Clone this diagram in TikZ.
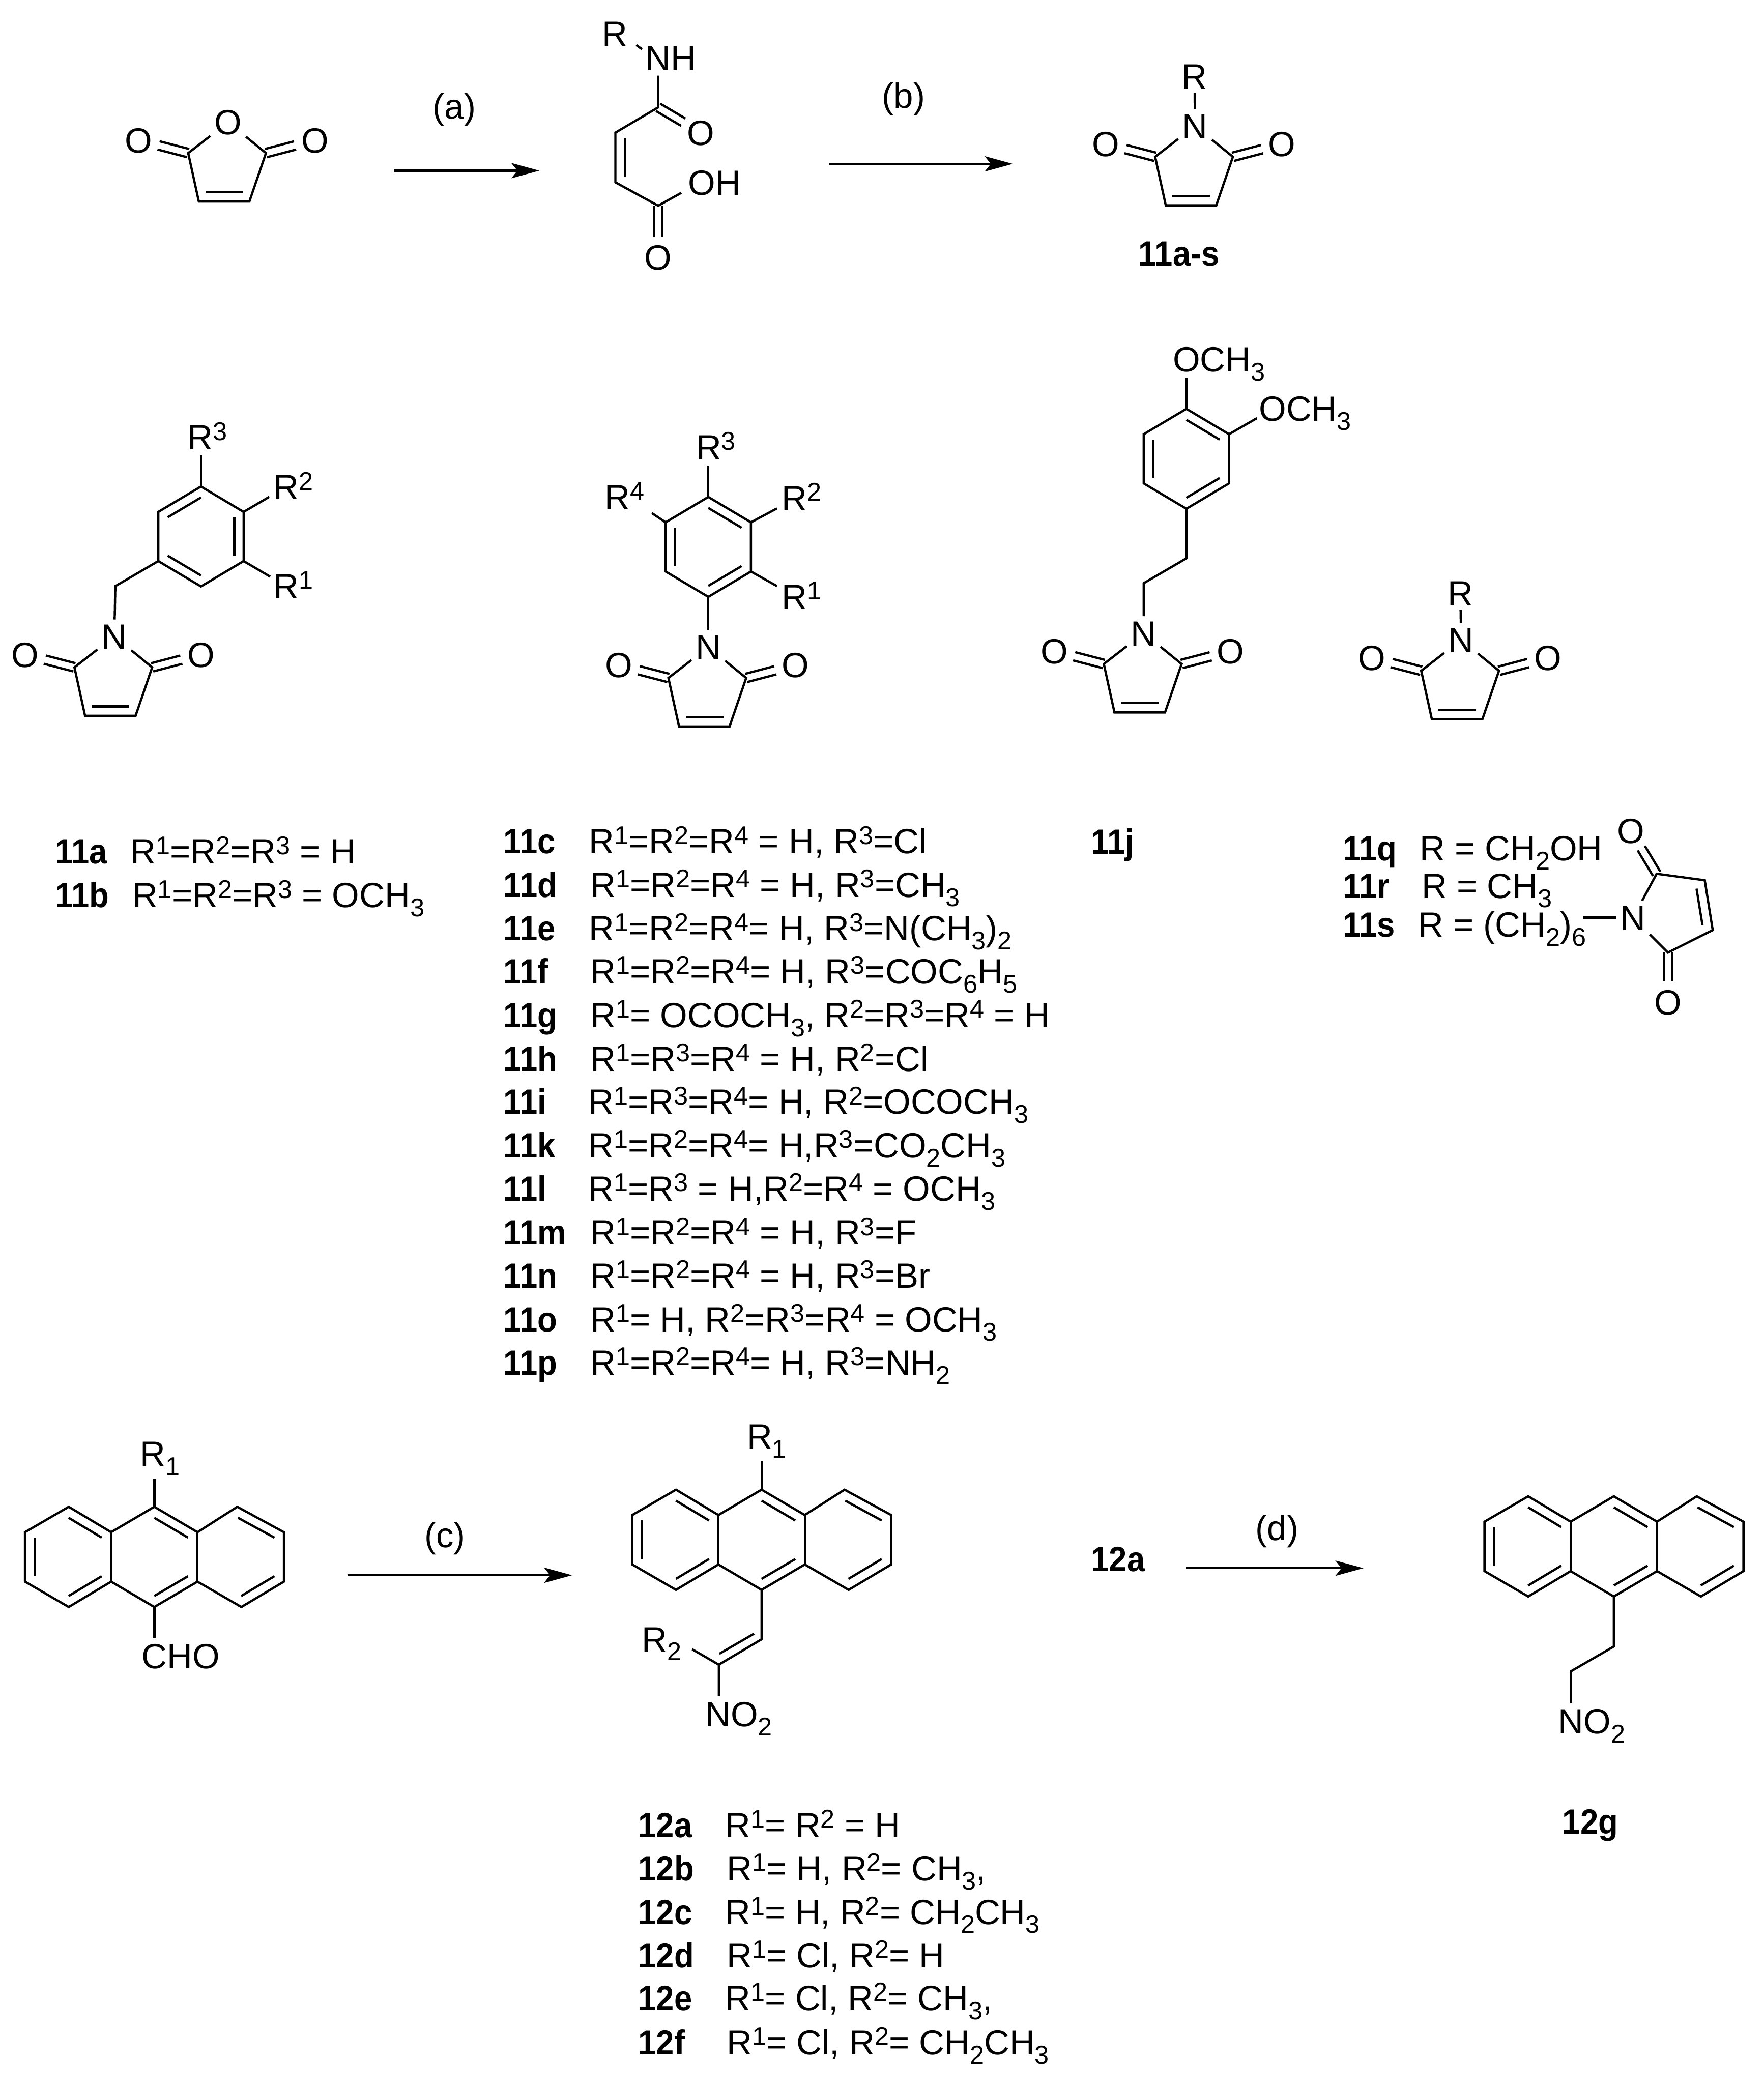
\documentclass[tikz,border=0pt]{standalone}
\usepackage{fontspec}
\setmainfont{Liberation Sans}
\newfontfamily\bldf[FakeStretch=0.92]{Liberation Sans Bold}
\usetikzlibrary{calc,arrows.meta}
\newcommand{\fz}{\fontsize{26.4}{30}\selectfont}
\newcommand{\spU}[1]{\raisebox{.27em}{\fontsize{19.3}{19}\selectfont #1}}
\newcommand{\spD}[1]{\raisebox{-.26em}{\fontsize{19.3}{19}\selectfont #1}}
\newcommand{\Rx}[1]{R\spU{#1}}
\tikzset{
  bond/.style={line width=1.7pt,line join=miter,black},
  rxn/.style={line width=1.7pt,-{Stealth[length=21pt,width=11.4pt,inset=4.5pt]}},
  atom/.style={font=\fz,inner sep=3pt,text height=19pt,text depth=0pt},
  lab/.style={font=\fz,anchor=base west,inner sep=0pt},
  bld/.style={font=\bldf\fz,anchor=base west,inner sep=0pt},
  cond/.style={font=\fz,inner sep=0pt}
}
% inner line of a double bond: pulled towards the ring centre
\newcommand{\inb}[3]{\draw[bond] ($(#1)!.78!(#2)$) -- ($(#1)!.78!(#3)$);}
% C=O double bond
\newcommand{\cdo}[2]{%
  \draw[bond,shorten >=15.5pt] ($(#1)!3.2pt!90:(#2)$) -- ($(#2)!3.2pt!-90:(#1)$);
  \draw[bond,shorten >=15.5pt] ($(#1)!3.2pt!-90:(#2)$) -- ($(#2)!3.2pt!90:(#1)$);}
% five-membered ring with hetero atom on top
\newcommand{\maleim}[4]{%
  \node[atom] (#1N) at (#2,#3) {#4};
  \coordinate (#1CL) at ($(#1N)+(-30,23.3)$);
  \coordinate (#1CR) at ($(#1N)+(28.5,23.3)$);
  \coordinate (#1BL) at ($(#1N)+(-22,59.8)$);
  \coordinate (#1BR) at ($(#1N)+(16,59.8)$);
  \coordinate (#1IL) at ($(#1N)+(-17,52.7)$);
  \coordinate (#1IR) at ($(#1N)+(11.3,52.7)$);
  \node[atom] (#1OL) at ($(#1N)+(-67.3,13.6)$) {O};
  \node[atom] (#1OR) at ($(#1N)+(65.4,13.6)$) {O};
  \draw[bond] (#1N) -- (#1CL) -- (#1BL) -- (#1BR) -- (#1CR) -- (#1N);
  \draw[bond] (#1IL) -- (#1IR);
  \cdo{#1CL}{#1OL}\cdo{#1CR}{#1OR}}
% benzene ring
\newcommand{\benz}[3]{%
  \coordinate (#1c) at (#2,#3);
  \coordinate (#11) at ($(#1c)+(0,-37.6)$);
  \coordinate (#12) at ($(#1c)+(32.1,-18.5)$);
  \coordinate (#13) at ($(#1c)+(32.1,18.5)$);
  \coordinate (#14) at ($(#1c)+(0,37.6)$);
  \coordinate (#15) at ($(#1c)+(-32.1,18.5)$);
  \coordinate (#16) at ($(#1c)+(-32.1,-18.5)$);
  \draw[bond] (#11) -- (#12) -- (#13) -- (#14) -- (#15) -- (#16) -- cycle;}
% anthracene
\newcommand{\anth}[3]{%
  \coordinate (#1c) at (#2,#3);
  \coordinate (#1cl) at ($(#1c)+(-64.6,0)$);
  \coordinate (#1cr) at ($(#1c)+(65,0)$);
  \coordinate (#1T) at ($(#1c)+(0,-37.7)$);
  \coordinate (#1B) at ($(#1c)+(0,37.7)$);
  \coordinate (#1J1) at ($(#1c)+(-32.5,-18.6)$);
  \coordinate (#1J2) at ($(#1c)+(32.5,-18.6)$);
  \coordinate (#1J3) at ($(#1c)+(-32.5,18.6)$);
  \coordinate (#1J4) at ($(#1c)+(32.5,18.6)$);
  \coordinate (#1Lt) at ($(#1c)+(-64.4,-37.7)$);
  \coordinate (#1UL) at ($(#1c)+(-97.3,-18.6)$);
  \coordinate (#1LL) at ($(#1c)+(-97.3,18.6)$);
  \coordinate (#1Lb) at ($(#1c)+(-64.4,37.7)$);
  \coordinate (#1Rt) at ($(#1c)+(62.4,-37.7)$);
  \coordinate (#1UR) at ($(#1c)+(97.5,-18.6)$);
  \coordinate (#1LR) at ($(#1c)+(97.5,18.6)$);
  \coordinate (#1Rb) at ($(#1c)+(65.5,37.7)$);
  \draw[bond] (#1T) -- (#1J1) -- (#1Lt) -- (#1UL) -- (#1LL) -- (#1Lb) -- (#1J3) -- (#1B) -- (#1J4) -- (#1Rb) -- (#1LR) -- (#1UR) -- (#1Rt) -- (#1J2) -- cycle;
  \draw[bond] (#1J1) -- (#1J3);
  \draw[bond] (#1J2) -- (#1J4);
  \inb{#1cl}{#1Lt}{#1J1}\inb{#1cl}{#1UL}{#1LL}\inb{#1cl}{#1Lb}{#1J3}
  \inb{#1c}{#1T}{#1J2}\inb{#1c}{#1B}{#1J4}
  \inb{#1cr}{#1Rt}{#1UR}\inb{#1cr}{#1LR}{#1Rb}}
% compound row: id, x of id, x of text, text, baseline
\newcommand{\rowl}[5]{\node[bld] (lb#1) at (#2,#5) {#1}; \node[lab] (tx#1) at (#3,#5) {#4};}
\begin{document}
\begin{tikzpicture}[x=1pt,y=-1pt]
\useasboundingbox (0,0) rectangle (1327.1,1568);
\fill[white] (0,0) rectangle (1327.1,1568);

%%% top scheme
\maleim{an}{171.6}{91.9}{O}
\coordinate (a1) at (296.5,128.4); \coordinate (a2) at (405.8,128.4);
\draw[rxn] (a1) -- (a2);
\node[cond] (ca) at (341.9,82.5) {(a)};

% maleamic acid
\node[atom] (acR) at (462.6,25.2) {R};
\node[lab] (acNH) at (485.4,53.2) {NH};
\coordinate (acs1) at (478.7,33.9); \coordinate (acs2) at (483,37);
\draw[bond] (acs1) -- (acs2);
\coordinate (acn) at (495.2,56.9);
\coordinate (acC1) at (495.2,80.8);
\coordinate (acC2) at (463,99.8);
\coordinate (acC3) at (463,137.2);
\coordinate (acC4) at (495.2,154.8);
\coordinate (acOHe) at (512.6,145.1);
\coordinate (aci1) at (470.2,103.7);
\coordinate (aci2) at (470.2,133.4);
\node[atom] (acO1) at (527.4,99.8) {O};
\node[atom] (acO2) at (495.2,193.5) {O};
\node[lab] (acOH) at (517.6,146.8) {OH};
\draw[bond] (acn) -- (acC1) -- (acC2) -- (acC3) -- (acC4) -- (acOHe);
\draw[bond] (aci1) -- (aci2);
\cdo{acC1}{acO1}\cdo{acC4}{acO2}

\coordinate (b1) at (623.5,123.3); \coordinate (b2) at (762,123.3);
\draw[rxn] (b1) -- (b2);
\node[cond] (cb) at (679.9,74.6) {(b)};

\maleim{pr}{899.1}{94.7}{N}
\node[atom] (prR) at (898.7,57.4) {R};
\draw[bond] (prR) -- (prN);
\node[bld] (l11as) at (856.5,200.1) {11a-s};

%%% benzyl maleimide
\maleim{bz}{86}{478.8}{N}
\benz{br}{151.2}{403.65}
\inb{brc}{br1}{br6}\inb{brc}{br2}{br3}\inb{brc}{br4}{br5}
\coordinate (brCH) at (86.8,441);
\draw[bond] (br5) -- (brCH) -- (bzN);
\coordinate (brE3) at (151.2,342.4);
\coordinate (brE2) at (202.5,373.9);
\coordinate (brE1) at (203.3,433.9);
\draw[bond] (br1) -- (brE3);
\draw[bond] (br2) -- (brE2);
\draw[bond] (br3) -- (brE1);
\node[lab] (brR3) at (141,338.3) {\Rx{3}};
\node[lab] (brR2) at (205.6,375.9) {\Rx{2}};
\node[lab] (brR1) at (205.6,450.3) {\Rx{1}};

%%% N-phenyl maleimide
\maleim{ph}{532.9}{486.8}{N}
\benz{pr2}{532.9}{411.5}
\inb{pr2c}{pr21}{pr22}\inb{pr2c}{pr23}{pr24}\inb{pr2c}{pr25}{pr26}
\draw[bond] (pr24) -- (phN);
\coordinate (phE3) at (532.9,350.4);
\coordinate (phE2) at (584.6,382.5);
\coordinate (phE1) at (584.6,441);
\coordinate (phE4) at (490.5,386.1);
\draw[bond] (pr21) -- (phE3);
\draw[bond] (pr22) -- (phE2);
\draw[bond] (pr23) -- (phE1);
\draw[bond] (pr26) -- (phE4);
\node[lab] (phR3) at (523.5,345.9) {\Rx{3}};
\node[lab] (phR2) at (588,384) {\Rx{2}};
\node[lab] (phR1) at (588,458.3) {\Rx{1}};
\node[lab] (phR4) at (454.8,383.4) {\Rx{4}};

%%% dimethoxyphenethyl maleimide
\maleim{dm}{860.5}{476.3}{N}
\benz{dr}{892.6}{345.2}
\inb{drc}{dr1}{dr2}\inb{drc}{dr3}{dr4}\inb{drc}{dr5}{dr6}
\coordinate (drA) at (892.6,420.1);
\coordinate (drB) at (860.5,438.8);
\draw[bond] (dr4) -- (drA) -- (drB) -- (dmN);
\coordinate (drE1) at (892.6,284.5);
\coordinate (drE2) at (945.7,314.6);
\draw[bond] (dr1) -- (drE1);
\draw[bond] (dr2) -- (drE2);
\node[lab] (drO1) at (882.3,279.6) {OCH\spD{3}};
\node[lab] (drO2) at (947,316.9) {OCH\spD{3}};

%%% R maleimide
\maleim{rm}{1099.3}{481.4}{N}
\node[atom] (rmR) at (1098.7,446.2) {R};
\draw[bond] (rmR) -- (rmN);

%%% compound lists
\rowl{11a}{41.5}{98}{\Rx{1}=\Rx{2}=\Rx{3} = H}{650}
\rowl{11b}{41.5}{99.4}{\Rx{1}=\Rx{2}=\Rx{3} = OCH\spD{3}}{682.9}

\rowl{11c}{378.5}{443}{\Rx{1}=\Rx{2}=\Rx{4} = H, \Rx{3}=Cl}{642.3}
\rowl{11d}{378.5}{444}{\Rx{1}=\Rx{2}=\Rx{4} = H, \Rx{3}=CH\spD{3}}{675}
\rowl{11e}{378.5}{443}{\Rx{1}=\Rx{2}=\Rx{4}= H, \Rx{3}=N(CH\spD{3})\spD{2}}{707.8}
\rowl{11f}{378.5}{444}{\Rx{1}=\Rx{2}=\Rx{4}= H, \Rx{3}=COC\spD{6}H\spD{5}}{740.2}
\rowl{11g}{378.5}{444}{\Rx{1}= OCOCH\spD{3}, \Rx{2}=\Rx{3}=\Rx{4} = H}{773}
\rowl{11h}{378.5}{444}{\Rx{1}=\Rx{3}=\Rx{4} = H, \Rx{2}=Cl}{806}
\rowl{11i}{378.5}{442.6}{\Rx{1}=\Rx{3}=\Rx{4}= H, \Rx{2}=OCOCH\spD{3}}{838.3}
\rowl{11k}{378.5}{442.6}{\Rx{1}=\Rx{2}=\Rx{4}= H,\Rx{3}=CO\spD{2}CH\spD{3}}{871.1}
\rowl{11l}{378.5}{442.6}{\Rx{1}=\Rx{3} = H,\Rx{2}=\Rx{4} = OCH\spD{3}}{903.6}
\rowl{11m}{378.5}{444}{\Rx{1}=\Rx{2}=\Rx{4} = H, \Rx{3}=F}{936.7}
\rowl{11n}{378.5}{444}{\Rx{1}=\Rx{2}=\Rx{4} = H, \Rx{3}=Br}{969.1}
\rowl{11o}{378.5}{444}{\Rx{1}= H, \Rx{2}=\Rx{3}=\Rx{4} = OCH\spD{3}}{1001.9}
\rowl{11p}{378.5}{444}{\Rx{1}=\Rx{2}=\Rx{4}= H, \Rx{3}=NH\spD{2}}{1034.5}

\node[bld] (l11j) at (820.8,642.4) {11j};

\rowl{11q}{1010.2}{1067.9}{R = CH\spD{2}OH}{647.7}
\rowl{11r}{1010.2}{1069.6}{R = CH\spD{3}}{676}
\rowl{11s}{1010.2}{1066.8}{R = (CH\spD{2})\spD{6}}{704.8}

% bismaleimide fragment of 11s
\node[atom] (bmN) at (1228.7,690.4) {N};
\coordinate (bmC1) at (1246.4,657.4);
\coordinate (bmC2) at (1282.6,662.3);
\coordinate (bmC3) at (1288.6,699.8);
\coordinate (bmC4) at (1254.9,716.7);
\coordinate (bmI1) at (1276.4,668.6);
\coordinate (bmI2) at (1280.9,696.1);
\coordinate (bmCh) at (1191.3,690.4);
\node[atom] (bmO1) at (1226.9,624.9) {O};
\node[atom] (bmO2) at (1254.9,754.1) {O};
\draw[bond] (bmN) -- (bmC1) -- (bmC2) -- (bmC3) -- (bmC4) -- (bmN);
\draw[bond] (bmI1) -- (bmI2);
\draw[bond] (bmCh) -- (bmN);
\cdo{bmC1}{bmO1}\cdo{bmC4}{bmO2}

%%% anthracene row
\anth{x}{116.1}{1171.4}
\coordinate (xE1) at (116.1,1113);
\coordinate (xE2) at (116.1,1232.2);
\draw[bond] (xT) -- (xE1);
\draw[bond] (xB) -- (xE2);
\node[lab] (xR1) at (105.4,1103.1) {R\spD{1}};
\node[lab] (xCHO) at (106.4,1255.3) {CHO};

\coordinate (c1) at (261.3,1185.2); \coordinate (c2) at (430.4,1185.2);
\draw[rxn] (c1) -- (c2);
\node[cond] (cc) at (334.7,1157.4) {(c)};

\anth{y}{573}{1158.5}
\coordinate (yE1) at (573,1099.6);
\coordinate (yV1) at (573,1233.4);
\coordinate (yV2) at (540.8,1252.5);
\coordinate (yI1) at (567.3,1229.2);
\coordinate (yI2) at (541.2,1244.3);
\coordinate (yE2) at (520.8,1240.9);
\coordinate (yE3) at (540.8,1276.1);
\draw[bond] (yT) -- (yE1);
\draw[bond] (yB) -- (yV1) -- (yV2) -- (yE3);
\draw[bond] (yV2) -- (yE2);
\draw[bond] (yI1) -- (yI2);
\node[lab] (yR1) at (561.8,1090.1) {R\spD{1}};
\node[lab] (yR2) at (482.7,1242.6) {R\spD{2}};
\node[lab] (yNO) at (530.5,1299.1) {NO\spD{2}};

\node[bld] (l12a) at (820.8,1182.3) {12a};
\coordinate (d1) at (892.4,1179.9); \coordinate (d2) at (1025.8,1179.9);
\draw[rxn] (d1) -- (d2);
\node[cond] (cd) at (960.8,1152) {(d)};

\anth{z}{1214.2}{1163.5}
\coordinate (zA) at (1214.2,1238.8);
\coordinate (zD) at (1181.9,1257.5);
\coordinate (zE) at (1181.9,1281.2);
\draw[bond] (zB) -- (zA) -- (zD) -- (zE);
\node[lab] (zNO) at (1172.2,1304.5) {NO\spD{2}};
\node[bld] (l12g) at (1175.4,1379.7) {12g};

\rowl{12a}{480.1}{545.6}{\Rx{1}= \Rx{2} = H}{1382.4}
\rowl{12b}{480.1}{546.7}{\Rx{1}= H, \Rx{2}= CH\spD{3},}{1415}
\rowl{12c}{480.1}{545.6}{\Rx{1}= H, \Rx{2}= CH\spD{2}CH\spD{3}}{1447.8}
\rowl{12d}{480.1}{546.7}{\Rx{1}= Cl, \Rx{2}= H}{1480.4}
\rowl{12e}{480.1}{545.6}{\Rx{1}= Cl, \Rx{2}= CH\spD{3},}{1512.7}
\rowl{12f}{480.1}{546.7}{\Rx{1}= Cl, \Rx{2}= CH\spD{2}CH\spD{3}}{1545.9}
\end{tikzpicture}
\end{document}
